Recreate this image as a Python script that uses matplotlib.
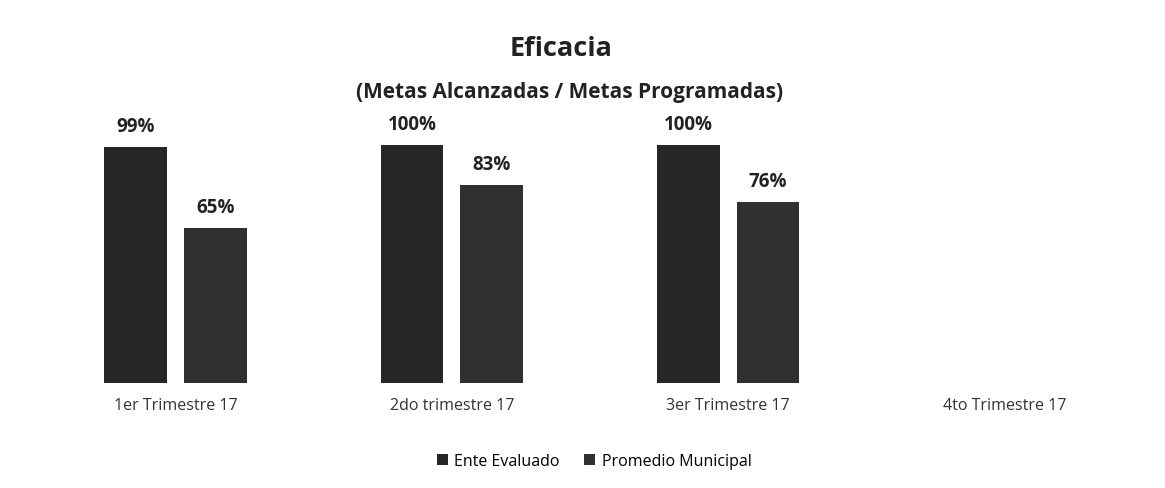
import matplotlib.pyplot as plt
import numpy as np

categories = ["1er Trimestre 17", "2do trimestre 17", "3er Trimestre 17", "4to Trimestre 17"]
ente = [0.99, 1.00, 1.00, None]
promedio = [0.65, 0.83, 0.76, None]
series_names = ["Ente Evaluado", "Promedio Municipal"]

plt.rcParams['font.family'] = ['Open Sans', 'DejaVu Sans']

fig = plt.figure(figsize=(11.65, 4.89), dpi=100)
ax = fig.add_axes([0.032, 0.215, 0.949, 0.58])

x = np.arange(len(categories))
w = 0.227
off = 0.144
colors = ["#262626", "#303030"]

for i, (vals, name) in enumerate(zip([ente, promedio], series_names)):
    xs = [xi + (-off if i == 0 else off) for xi, v in zip(x, vals) if v is not None]
    ys = [v for v in vals if v is not None]
    bars = ax.bar(xs, ys, width=w, color=colors[i], label=name)
    for b, v in zip(bars, ys):
        ax.text(b.get_x() + b.get_width() / 2, v + 0.045, f"{v:.0%}",
                ha="center", va="bottom", fontsize=13.5, fontweight="bold", color="#222222")

ax.set_xlim(-0.5, len(categories) - 0.5)
ax.set_ylim(0, 1.19)
ax.set_xticks(x)
ax.set_xticklabels(categories, fontsize=11.5, color="#333333")
ax.tick_params(axis="x", length=0, pad=10)
ax.set_yticks([])
for s in ax.spines.values():
    s.set_visible(False)

fig.text(0.482, 0.9, "Eficacia", ha="center", va="center", fontsize=19.5, fontweight="bold", color="#222222")
fig.text(0.489, 0.81, "(Metas Alcanzadas / Metas Programadas)", ha="center", va="center",
         fontsize=15, fontweight="bold", color="#222222")

fig.legend(loc="center", bbox_to_anchor=(0.51, 0.055), ncol=2, frameon=False, fontsize=11.5,
           handlelength=0.7, handleheight=0.7, handletextpad=0.4, columnspacing=1.5)

fig.savefig("out.png", dpi=100)
